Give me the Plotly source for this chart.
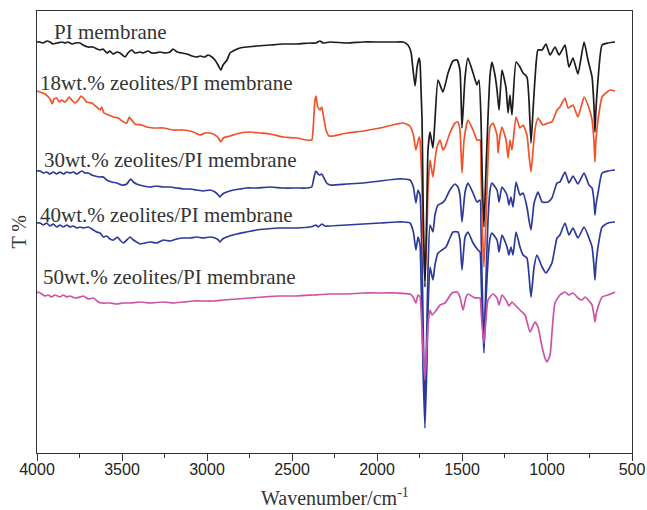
import plotly.graph_objects as go

# ---------------- data (wavenumber cm-1, transmittance in arbitrary offset units) ----------------
pi_wn = [4000, 3982, 3965, 3941, 3924, 3906, 3882, 3853, 3835, 3818, 3794, 3776, 3747, 3729, 3700, 3671,
         3647, 3629, 3612, 3588, 3571, 3553, 3529, 3512, 3482, 3465, 3441, 3424, 3394, 3376, 3347, 3324,
         3306, 3276, 3247, 3218, 3200, 3176, 3147, 3118, 3088, 3059, 3041, 3012, 2994, 2971, 2953, 2935,
         2918, 2906, 2882, 2865, 2835, 2806, 2765, 2706, 2629, 2553, 2471, 2394, 2359, 2335, 2318, 2276,
         2176, 2082, 1982, 1882, 1847, 1818, 1800, 1788, 1776, 1765, 1753, 1747, 1741, 1735, 1729, 1718,
         1706, 1700, 1688, 1671, 1659, 1641, 1612, 1582, 1553, 1529, 1512, 1500, 1482, 1465, 1435, 1412,
         1400, 1388, 1382, 1371, 1359, 1347, 1335, 1324, 1306, 1294, 1282, 1265, 1241, 1229, 1218, 1206,
         1182, 1159, 1141, 1118, 1106, 1094, 1082, 1071, 1053, 1029, 1006, 982, 953, 929, 894, 871,
         847, 818, 782, 759, 735, 724, 718, 712, 700, 676, 641, 600]
pi_t = [411, 411, 410, 412, 411, 409, 410, 411, 410, 411, 409, 410, 410, 408, 406, 406,
        404, 403, 404, 400, 402, 399, 401, 400, 396, 400, 403, 400, 401, 400, 402, 400,
        400, 401, 400, 401, 404, 401, 400, 399, 397, 396, 397, 396, 398, 396, 393, 388,
        383, 388, 393, 400, 403, 405, 406, 407, 408, 409, 409, 410, 410, 412, 410, 411,
        410, 411, 411, 411, 411, 408, 401, 383, 367, 385, 395, 391, 363, 333, 253, 166,
        253, 303, 321, 305, 333, 373, 361, 380, 392, 393, 383, 325, 376, 395, 380, 368,
        373, 333, 283, 226, 283, 336, 378, 391, 378, 363, 343, 383, 365, 340, 358, 338,
        391, 386, 380, 376, 353, 310, 343, 373, 403, 403, 409, 398, 406, 398, 408, 386,
        395, 379, 411, 393, 376, 348, 321, 343, 373, 408, 410, 411]

z18_wn = [4000, 3982, 3953, 3933, 3920, 3910, 3900, 3884, 3869, 3855, 3835, 3810, 3796, 3776, 3757, 3741,
          3727, 3708, 3678, 3649, 3629, 3620, 3606, 3580, 3551, 3522, 3492, 3472, 3457, 3443, 3424, 3384,
          3355, 3316, 3257, 3198, 3139, 3080, 3041, 3012, 2982, 2953, 2933, 2919, 2904, 2865, 2806, 2747,
          2688, 2629, 2551, 2472, 2414, 2384, 2375, 2365, 2359, 2349, 2335, 2325, 2316, 2300, 2282, 2257,
          2178, 2080, 1982, 1884, 1845, 1806, 1786, 1771, 1753, 1747, 1741, 1735, 1729, 1718, 1706, 1700,
          1688, 1671, 1659, 1647, 1629, 1612, 1600, 1571, 1541, 1524, 1512, 1500, 1488, 1465, 1435, 1412,
          1394, 1388, 1382, 1371, 1359, 1347, 1335, 1318, 1294, 1288, 1276, 1265, 1241, 1229, 1218, 1206,
          1182, 1159, 1141, 1118, 1106, 1094, 1082, 1071, 1053, 1024, 994, 971, 941, 924, 894, 876,
          847, 818, 782, 753, 735, 724, 718, 712, 700, 676, 647, 629, 600]
z18_t = [362, 361, 359, 356, 353, 349, 354, 355, 351, 353, 351, 356, 353, 350, 353, 357,
         355, 351, 350, 346, 343, 346, 340, 338, 336, 335, 331, 330, 336, 333, 329, 328,
         326, 325, 325, 323, 323, 321, 318, 320, 320, 318, 315, 311, 315, 317, 320, 321,
         320, 319, 316, 315, 313, 313, 326, 353, 357, 346, 343, 346, 338, 323, 317, 317,
         320, 322, 325, 329, 330, 327, 318, 303, 316, 313, 293, 263, 213, 172,
         223, 263, 293, 276, 293, 306, 313, 303, 306, 320, 330, 331, 323, 280, 313, 333, 323, 313,
         313, 283, 233, 186, 233, 293, 326, 330, 318, 300, 318, 326, 313, 295, 313, 303,
         336, 325, 328, 318, 298, 281, 303, 323, 335, 328, 330, 331, 343, 346, 355, 345,
         348, 336, 356, 345, 333, 313, 291, 313, 333, 356, 361, 363, 362]

z30_wn = [4000, 3982, 3963, 3943, 3924, 3904, 3884, 3865, 3845, 3825, 3806, 3786, 3766, 3737, 3718, 3698,
          3678, 3659, 3629, 3610, 3590, 3561, 3531, 3502, 3472, 3449, 3433, 3414, 3374, 3335, 3296, 3257,
          3218, 3178, 3139, 3100, 3061, 3022, 2982, 2953, 2933, 2924, 2908, 2884, 2845, 2806, 2767, 2708,
          2629, 2551, 2472, 2414, 2384, 2370, 2360, 2351, 2339, 2325, 2312, 2296, 2276, 2178, 2080, 1982,
          1884, 1845, 1806, 1786, 1771, 1759, 1747, 1741, 1735, 1729, 1718, 1706, 1700, 1688, 1671, 1659,
          1641, 1618, 1600, 1571, 1541, 1524, 1512, 1500, 1482, 1465, 1435, 1412, 1394, 1388, 1382, 1371,
          1359, 1347, 1335, 1324, 1294, 1282, 1265, 1235, 1224, 1212, 1200, 1182, 1159, 1141, 1118, 1106,
          1094, 1076, 1053, 1029, 994, 971, 941, 924, 894, 871, 847, 818, 782, 753, 735, 724,
          718, 712, 700, 676, 641, 600]
z30_t = [282, 282, 280, 281, 279, 281, 279, 281, 279, 281, 280, 281, 279, 282, 280, 280,
         278, 277, 276, 276, 273, 271, 270, 268, 269, 274, 271, 269, 267, 266, 267, 266,
         266, 265, 264, 264, 263, 262, 263, 261, 258, 256, 259, 261, 263, 264, 265, 265,
         266, 265, 265, 265, 266, 276, 282, 280, 278, 279, 275, 270, 268, 269, 270, 272,
         274, 274, 273, 266, 250, 263, 258, 233, 193, 133, 43, 133, 183, 228, 221, 238,
         248, 250, 253, 263, 269, 266, 258, 231, 261, 270, 260, 251, 253, 223, 173, 108,
         173, 233, 263, 270, 263, 251, 266, 258, 248, 256, 246, 271, 258, 260, 246, 233,
         223, 250, 261, 251, 251, 255, 270, 271, 281, 270, 277, 269, 280, 268, 265, 253,
         238, 248, 260, 280, 282, 283]

z40_wn = [4000, 3982, 3963, 3943, 3924, 3904, 3884, 3865, 3845, 3825, 3806, 3786, 3766, 3747, 3727, 3698,
          3669, 3649, 3629, 3610, 3590, 3571, 3551, 3527, 3512, 3492, 3472, 3453, 3433, 3414, 3394, 3365,
          3335, 3296, 3257, 3218, 3178, 3139, 3100, 3061, 3022, 2982, 2953, 2933, 2924, 2908, 2884, 2825,
          2767, 2708, 2649, 2570, 2472, 2394, 2375, 2360, 2345, 2325, 2306, 2178, 2080, 1982, 1884, 1845,
          1806, 1786, 1771, 1759, 1747, 1741, 1735, 1729, 1718, 1706, 1700, 1688, 1671, 1659, 1641, 1618,
          1594, 1571, 1553, 1524, 1512, 1500, 1482, 1465, 1435, 1406, 1394, 1388, 1382, 1371, 1359, 1347,
          1335, 1324, 1294, 1282, 1265, 1235, 1224, 1212, 1200, 1182, 1159, 1141, 1118, 1106, 1094, 1076,
          1059, 1029, 1006, 971, 941, 924, 894, 871, 847, 818, 782, 753, 735, 724, 718, 712,
          700, 676, 641, 600]
z40_t = [230, 230, 228, 230, 227, 229, 226, 228, 226, 228, 226, 227, 225, 226, 225, 226,
         223, 221, 220, 216, 217, 214, 213, 216, 213, 210, 213, 216, 213, 211, 209, 210,
         211, 210, 213, 212, 214, 215, 215, 216, 215, 216, 215, 213, 211, 214, 216, 219,
         221, 223, 224, 225, 225, 226, 227, 228, 226, 229, 227, 228, 229, 230, 231, 231,
         230, 221, 203, 216, 208, 173, 133, 83, 25, 93, 143, 186, 173, 188, 200, 203,
         206, 215, 221, 221, 213, 183, 216, 221, 210, 203, 201, 178, 143, 100, 153, 193,
         215, 220, 213, 201, 218, 206, 198, 206, 198, 221, 206, 198, 195, 178, 156, 186,
         198, 186, 180, 190, 215, 218, 230, 218, 225, 215, 226, 215, 206, 188, 173, 188,
         206, 226, 230, 231]

z50_wn = [4000, 3992, 3972, 3953, 3933, 3914, 3894, 3865, 3845, 3825, 3806, 3776, 3747, 3727, 3698, 3669,
          3639, 3620, 3571, 3531, 3492, 3453, 3394, 3335, 3257, 3198, 3139, 3080, 3022, 2963, 2904, 2825,
          2747, 2669, 2570, 2472, 2375, 2276, 2178, 2080, 1982, 1884, 1806, 1788, 1771, 1759, 1747, 1741,
          1735, 1729, 1718, 1706, 1700, 1688, 1676, 1659, 1629, 1600, 1559, 1529, 1512, 1494, 1476, 1465,
          1424, 1394, 1388, 1382, 1371, 1359, 1347, 1318, 1294, 1282, 1265, 1235, 1224, 1206, 1188, 1159,
          1129, 1100, 1071, 1053, 1029, 1012, 1000, 982, 971, 953, 924, 894, 871, 847, 818, 794,
          776, 747, 735, 724, 718, 712, 700, 676, 641, 600]
z50_t = [160, 161, 159, 157, 158, 156, 158, 156, 158, 156, 157, 155, 156, 157, 154, 155,
         151, 150, 150, 149, 150, 150, 151, 150, 151, 150, 151, 152, 152, 152, 153, 154,
         155, 156, 157, 157, 158, 159, 159, 160, 160, 160, 159, 156, 150, 158, 156, 143,
         123, 103, 73, 108, 128, 143, 138, 141, 148, 150, 160, 161, 156, 143, 156, 159,
         155, 155, 143, 128, 110, 133, 153, 159, 155, 148, 158, 151, 147, 151, 148, 143,
         138, 121, 131, 126, 106, 95, 91, 98, 120, 150, 158, 161, 158, 160, 155, 153,
         156, 151, 148, 138, 131, 138, 146, 156, 158, 161]

labels = ["PI membrane", "18wt.% zeolites/PI membrane", "30wt.% zeolites/PI membrane",
          "40wt.% zeolites/PI membrane", "50wt.% zeolites/PI membrane"]
label_x = [3911, 3994, 3971, 3994, 3974]
label_y = [421, 370, 293, 238, 176]

x_ticks = [4000, 3500, 3000, 2500, 2000, 1500, 1000, 500]

# ---------------- figure ----------------
series = [
    (z40_wn, z40_t, "#2c3a99", labels[3]),
    (z30_wn, z30_t, "#2c3a99", labels[2]),
    (z18_wn, z18_t, "#f0522a", labels[1]),
    (z50_wn, z50_t, "#cc52a6", labels[4]),
    (pi_wn, pi_t, "#1c1c1c", labels[0]),
]

fig = go.Figure()
for xs, ys, col, name in series:
    fig.add_trace(go.Scatter(x=xs, y=ys, mode="lines", name=name,
                             line=dict(color=col, width=1.7, shape="spline", smoothing=0.5),
                             showlegend=False))

serif = "Liberation Serif, Times New Roman, serif"
for txt, lx, ly in zip(labels, label_x, label_y):
    fig.add_annotation(x=lx, y=ly, text=txt, showarrow=False, xanchor="left", yanchor="middle",
                       font=dict(family=serif, size=21, color="#333333"))

# axis titles as paper-anchored annotations
fig.add_annotation(xref="paper", yref="paper", x=0.5, y=-0.0995, text="Wavenumber/cm<sup>-1</sup>",
                   showarrow=False, xanchor="center", yanchor="middle",
                   font=dict(family=serif, size=20, color="#333333"))
fig.add_annotation(xref="paper", yref="paper", x=-0.031, y=0.5, text="T %", textangle=-90,
                   showarrow=False, xanchor="center", yanchor="middle",
                   font=dict(family=serif, size=20, color="#333333"))

fig.update_layout(
    width=647, height=510,
    margin=dict(l=37, r=15, t=11, b=57, autoexpand=False),
    paper_bgcolor="white", plot_bgcolor="white",
    xaxis=dict(range=[4000, 500], tickvals=x_ticks, ticktext=[str(v) for v in x_ticks],
               ticks="outside", ticklen=7, tickwidth=1.2, tickcolor="#333",
               ticklabelstandoff=-5, ticklabeloverflow="allow",
               showline=True, linecolor="#333", linewidth=1.4, mirror=True,
               showgrid=False, zeroline=False, automargin=False,
               tickfont=dict(family="Liberation Sans, Arial, sans-serif", size=16, color="#222"),
               minor=dict(dtick=250, tick0=500, ticks="outside", ticklen=4, tickcolor="#333", showgrid=False)),
    yaxis=dict(range=[0, 442], showticklabels=False, ticks="",
               showline=True, linecolor="#333", linewidth=1.4, mirror=True,
               showgrid=False, zeroline=False, automargin=False),
)

fig.write_html("out.html",
               config={"displayModeBar": False},
               post_script="document.body.style.margin='0';document.body.style.overflow='hidden';")
